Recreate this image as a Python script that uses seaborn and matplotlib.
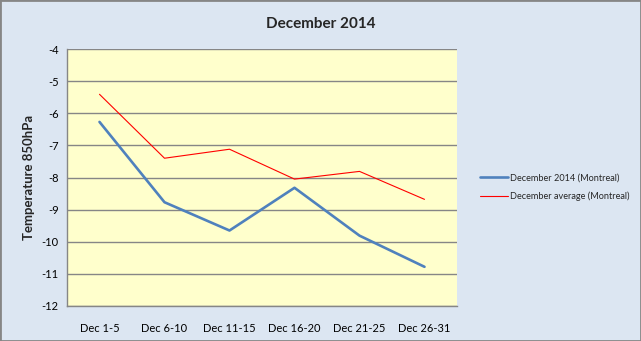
import matplotlib
matplotlib.use("Agg")
import matplotlib.pyplot as plt
from matplotlib.patches import Rectangle
import seaborn as sns
import pandas as pd

periods = ["Dec 1-5", "Dec 6-10", "Dec 11-15", "Dec 16-20", "Dec 21-25", "Dec 26-31"]
dec_2014 = [-6.27, -8.77, -9.65, -8.32, -9.81, -10.78]
dec_average = [-5.41, -7.40, -7.12, -8.05, -7.81, -8.68]
series_names = ["December 2014 (Montreal)", "December average (Montreal)"]
y_ticks = [-12, -11, -10, -9, -8, -7, -6, -5, -4]

df = pd.DataFrame({
    "period": periods * 2,
    "temp": dec_2014 + dec_average,
    "series": [series_names[0]] * len(periods) + [series_names[1]] * len(periods),
})

sns.set_theme(style="white")
plt.rcParams["font.family"] = ["Lato", "DejaVu Sans"]

fig = plt.figure(figsize=(6.41, 3.41), dpi=100)
fig.patch.set_facecolor("#DCE6F2")
ax = fig.add_axes([67 / 641, 1 - 306 / 341, 390 / 641, 257 / 341])
ax.set_facecolor("#FFFFCC")

sns.lineplot(data=df, x="period", y="temp", hue="series", sort=False,
             palette={series_names[0]: "#4F81BD", series_names[1]: "#FF0000"},
             ax=ax, legend=True)
for line, lw in zip(ax.lines, [1.9, 0.8]):
    line.set_linewidth(lw)

ax.set_xlim(-0.5, len(periods) - 0.5)
ax.set_ylim(-12, -4)
ax.set_yticks(y_ticks)
ax.set_yticklabels([str(t) for t in y_ticks])
ax.yaxis.grid(True, color="#868686", linewidth=1.0)
ax.set_axisbelow(True)
for side in ["top", "right"]:
    ax.spines[side].set_visible(False)
for side in ["left", "bottom"]:
    ax.spines[side].set_color("#868686")
    ax.spines[side].set_linewidth(1.0)
ax.tick_params(axis="both", labelsize=8, length=0, colors="black")
ax.tick_params(axis="x", pad=12)
ax.tick_params(axis="y", pad=6)
ax.set_xlabel("")
ax.set_ylabel("Temperature 850hPa", fontsize=9.5, fontweight="bold", labelpad=5)

handles, labels = ax.get_legend_handles_labels()
handles[0].set_linewidth(1.9)
handles[1].set_linewidth(0.8)
ax.legend(handles, labels, loc="center left", bbox_to_anchor=(472 / 641, 1 - 187 / 341),
          bbox_transform=fig.transFigure, frameon=False, fontsize=6.6,
          handlelength=3.0, handletextpad=0.3, labelspacing=1.0)

fig.suptitle("December 2014", x=0.5, y=1 - 24 / 341, va="center",
             fontsize=11, fontweight="bold")

fig.patches.append(Rectangle((0, 0), 1, 1, transform=fig.transFigure, fill=False,
                             edgecolor="#868686", linewidth=2))

fig.savefig("out.png", dpi=100, facecolor=fig.get_facecolor())
